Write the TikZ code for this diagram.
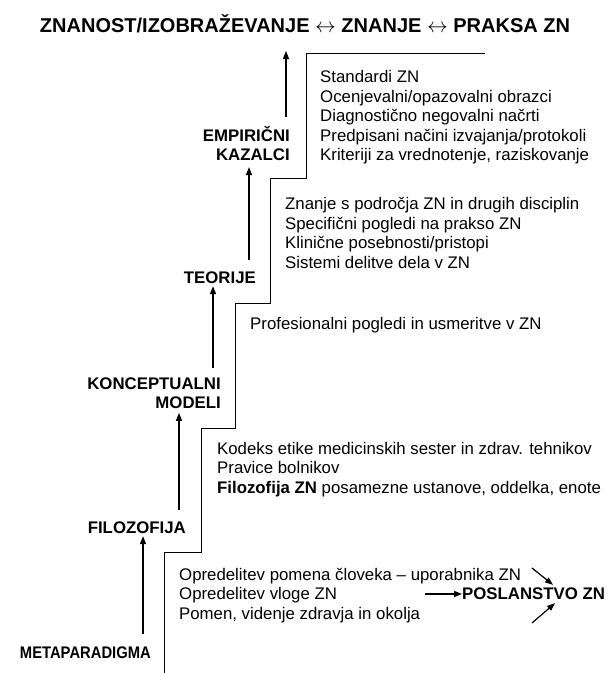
\documentclass[tikz,border=0pt]{standalone}
\usepackage{fontspec}
\setmainfont{Liberation Sans}
\usetikzlibrary{arrows.meta}
\begin{document}
\begin{tikzpicture}[x=1pt,y=-1pt,
  lbl/.style={font=\fontsize{16.8}{19.5}\selectfont\bfseries, align=right, anchor=east, inner sep=0pt},
  blk/.style={font=\fontsize{16.8}{19.5}\selectfont, align=left, anchor=west, inner sep=0pt},
  arr/.style={line width=1.2pt, -{Triangle[length=8pt,width=6pt]}},
  stair/.style={line width=1pt}]
\useasboundingbox (0,0) rectangle (607,673);
\node[font=\fontsize{20}{24}\selectfont\bfseries, inner sep=0pt] (title) at (305,24) {ZNANOST/IZOBRAŽEVANJE $\leftrightarrow$ ZNANJE $\leftrightarrow$ PRAKSA ZN};

\node[lbl] (emp) at (290,143.5) {EMPIRIČNI\\KAZALCI};
\node[lbl] (teo) at (256,278) {TEORIJE};
\node[lbl] (kon) at (221,393) {KONCEPTUALNI\\MODELI};
\node[lbl] (fil) at (186,528) {FILOZOFIJA};
\node[lbl] (met) at (151,653) {\scalebox{0.88}[1]{METAPARADIGMA}};

\node[blk] (b1) at (320,117.5) {Standardi ZN\\Ocenjevalni/opazovalni obrazci\\Diagnostično negovalni načrti\\Predpisani načini izvajanja/protokoli\\Kriteriji za vrednotenje, raziskovanje};
\node[blk] (b2) at (285,233) {Znanje s področja ZN in drugih disciplin\\Specifični pogledi na prakso ZN\\Klinične posebnosti/pristopi\\Sistemi delitve dela v ZN};
\node[blk] (b3) at (250,325.5) {Profesionalni pogledi in usmeritve v ZN};
\node[blk] (b4) at (217,469.5) {Kodeks etike medicinskih sester in zdrav. tehnikov\\Pravice bolnikov\\\textbf{Filozofija ZN} posamezne ustanove, oddelka, enote};
\node[blk] (b5) at (179,595.5) {Opredelitev pomena človeka – uporabnika ZN\\Opredelitev vloge ZN\\Pomen, videnje zdravja in okolja};

\node[font=\fontsize{16.8}{19.5}\selectfont\bfseries, anchor=west, inner sep=0pt] (pos) at (462,594) {POSLANSTVO ZN};

\draw[stair] (485,53) -- (306,53) -- (306,178) -- (270,178) -- (270,303) -- (235,303) -- (235,428) -- (201,428) -- (201,552) -- (164,552) -- (164,673);

\coordinate (tip) at (286,51);
\draw[arr] ([xshift=-4pt,yshift=9pt]emp.north east) -- (tip);
\draw[arr] ([xshift=-7pt,yshift=12pt]teo.north east) -- ([xshift=-41pt,yshift=-6pt]emp.south east);
\draw[arr] ([xshift=-8pt,yshift=9pt]kon.north east) -- ([xshift=-43pt,yshift=-2pt]teo.south east);
\draw[arr] ([xshift=-7pt,yshift=12pt]fil.north east) -- ([xshift=-42pt,yshift=-4pt]kon.south east);
\draw[arr] ([xshift=-8pt,yshift=13pt]met.north east) -- ([xshift=-43pt,yshift=-2pt]fil.south east);

\coordinate (h0) at (425,594);
\coordinate (d1) at (532,568);
\coordinate (d2) at (532,623);
\draw[arr] (h0) -- (pos.west);
\draw[arr] (d1) -- ([xshift=91pt,yshift=3pt]pos.north west);
\draw[arr] (d2) -- ([xshift=93pt,yshift=-3pt]pos.south west);
\end{tikzpicture}
\end{document}
